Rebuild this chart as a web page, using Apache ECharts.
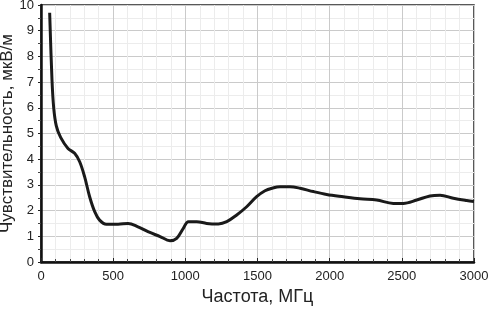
<!DOCTYPE html>
<html><head><meta charset="utf-8">
<script src="https://cdn.jsdelivr.net/npm/echarts@6/dist/echarts.min.js"></script>
<style>html,body{margin:0;padding:0;background:#fff}#c{width:492px;height:312px}</style>
</head><body><div id="c"></div>
<script>
var freq = [60, 76, 88, 106, 136, 187, 233, 268, 302, 337, 372, 406, 453, 534, 603, 672, 741, 825, 894, 940, 986, 1021, 1079, 1148, 1229, 1287, 1356, 1425, 1494, 1552, 1600, 1656, 1725, 1795, 1887, 1979, 2095, 2210, 2326, 2441, 2510, 2603, 2695, 2765, 2857, 2949, 3000];
var sens = [9.7, 7.1, 6.0, 5.3, 4.85, 4.42, 4.23, 3.9, 3.32, 2.54, 1.96, 1.63, 1.47, 1.47, 1.5, 1.37, 1.18, 0.99, 0.83, 0.92, 1.31, 1.57, 1.57, 1.5, 1.48, 1.57, 1.83, 2.15, 2.54, 2.77, 2.87, 2.93, 2.93, 2.87, 2.74, 2.63, 2.54, 2.46, 2.41, 2.28, 2.28, 2.41, 2.57, 2.6, 2.48, 2.39, 2.35];
var xTicks = [0, 500, 1000, 1500, 2000, 2500, 3000];
var yTicks = [0, 1, 2, 3, 4, 5, 6, 7, 8, 9, 10];
var xName = 'Частота, МГц';
var yName = 'Чувствительность, мкВ/м';

var pts = freq.map(function (f, i) { return [f, sens[i]]; });
var font = 'Liberation Sans, Arial, sans-serif';
var chart = echarts.init(document.getElementById('c'), null, {renderer: 'canvas'});
chart.setOption({
  animation: false,
  grid: {left: 41, right: 18, top: 5, bottom: 50, containLabel: false, outerBoundsMode: 'none',
         show: true, borderColor: '#222', borderWidth: 1.5, backgroundColor: 'transparent'},
  xAxis: {
    type: 'value', min: xTicks[0], max: xTicks[xTicks.length - 1], interval: 500,
    name: xName, nameLocation: 'middle', nameGap: 26, nameMoveOverlap: false,
    nameTextStyle: {fontSize: 18, color: '#222', fontFamily: font},
    axisLine: {show: true, onZero: false, lineStyle: {color: '#111', width: 2.5}},
    axisTick: {show: true, inside: true, length: 4, lineStyle: {color: '#222', width: 1}},
    minorTick: {show: true, splitNumber: 5, length: 3, lineStyle: {color: '#444'}},
    axisLabel: {fontSize: 13, color: '#222', fontFamily: font, margin: 8,
                formatter: function (v) { return String(v); }},
    splitLine: {show: true, lineStyle: {color: '#cacaca', width: 1}},
    minorSplitLine: {show: true, lineStyle: {color: '#ececec', width: 1}}
  },
  yAxis: {
    type: 'value', min: yTicks[0], max: yTicks[yTicks.length - 1], interval: 1,
    name: yName, nameLocation: 'middle', nameGap: 25, nameMoveOverlap: false,
    nameTextStyle: {fontSize: 17, color: '#222', fontFamily: font},
    axisLine: {show: true, lineStyle: {color: '#111', width: 2.5}},
    axisTick: {show: true, inside: false, length: 3, lineStyle: {color: '#222'}},
    minorTick: {show: true, splitNumber: 2, length: 3, lineStyle: {color: '#444'}},
    axisLabel: {fontSize: 13, color: '#222', fontFamily: font, margin: 7,
                formatter: function (v) { return String(v); }},
    splitLine: {show: true, lineStyle: {color: '#cacaca', width: 1}},
    minorSplitLine: {show: true, lineStyle: {color: '#ececec', width: 1}}
  },
  series: [{
    type: 'line', data: pts, smooth: 0.35, showSymbol: false,
    lineStyle: {color: '#1a1a1a', width: 3}
  }]
});
</script></body></html>
